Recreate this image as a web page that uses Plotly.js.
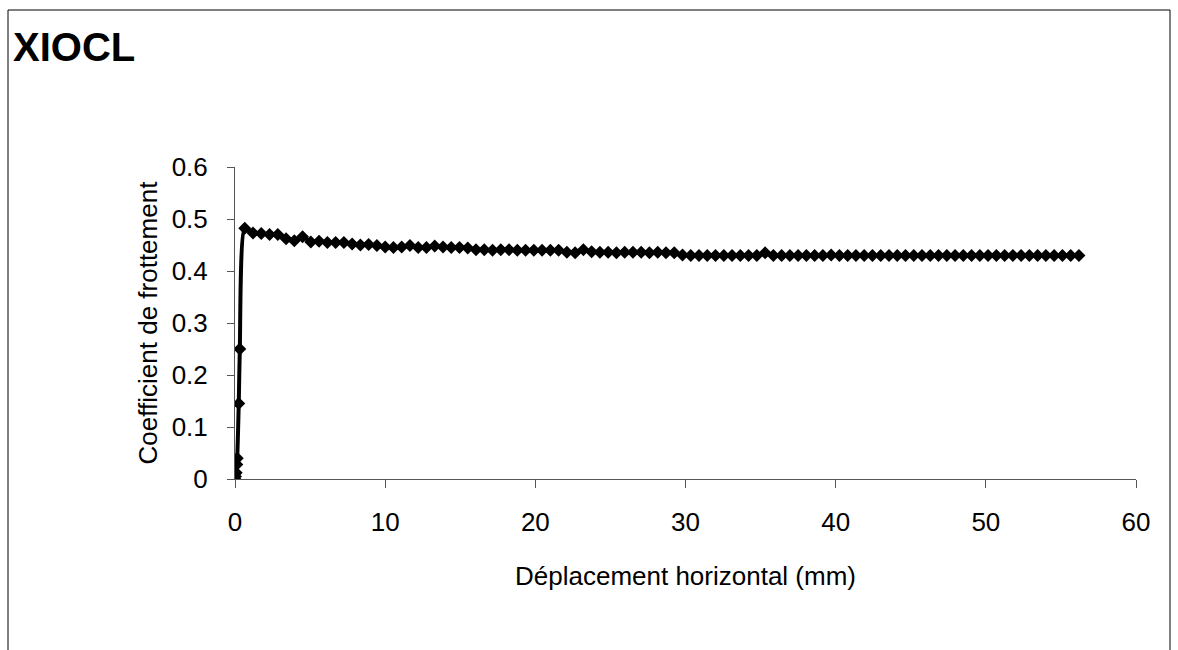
<!DOCTYPE html>
<html>
<head>
<meta charset="utf-8">
<script src="https://cdn.plot.ly/plotly-3.0.1.min.js"></script>
<style>
  html, body { margin: 0; padding: 0; background: #ffffff; }
  #chart { width: 1178px; height: 650px; }
</style>
</head>
<body>
<div id="chart"></div>
<script>
// Displacement (mm) and friction coefficient
var displacement = [
  0, 0.03, 0.08, 0.12, 0.15, 0.25, 0.32,
  0.65, 1.2, 1.75, 2.3, 2.85, 3.4, 3.95, 4.5, 5.05, 5.6,
  6.15, 6.7, 7.25, 7.8, 8.35, 8.9, 9.45, 10.0, 10.55, 11.1,
  11.65, 12.2, 12.75, 13.3, 13.85, 14.4, 14.95, 15.5, 16.05, 16.6,
  17.15, 17.7, 18.25, 18.8, 19.35, 19.9, 20.45, 21.0, 21.55, 22.1,
  22.65, 23.2, 23.75, 24.3, 24.85, 25.4, 25.95, 26.5, 27.05, 27.6,
  28.15, 28.7, 29.25, 29.8, 30.35, 30.9, 31.45, 32.0, 32.55, 33.1,
  33.65, 34.2, 34.75, 35.3, 35.85, 36.4, 36.95, 37.5, 38.05, 38.6,
  39.15, 39.7, 40.25, 40.8, 41.35, 41.9, 42.45, 43.0, 43.55, 44.1,
  44.65, 45.2, 45.75, 46.3, 46.85, 47.4, 47.95, 48.5, 49.05, 49.6,
  50.15, 50.7, 51.25, 51.8, 52.35, 52.9, 53.45, 54.0, 54.55, 55.1,
  55.65, 56.2
];
var frictionCoeff = [
  0, 0.005, 0.012, 0.028, 0.04, 0.145, 0.25,
  0.482, 0.473, 0.472, 0.470, 0.470, 0.462, 0.458, 0.466, 0.456, 0.457,
  0.455, 0.455, 0.455, 0.452, 0.450, 0.451, 0.449, 0.446, 0.445, 0.446,
  0.449, 0.445, 0.445, 0.448, 0.446, 0.445, 0.445, 0.444, 0.441, 0.441,
  0.440, 0.441, 0.441, 0.440, 0.440, 0.440, 0.440, 0.440, 0.440, 0.436,
  0.435, 0.441, 0.437, 0.436, 0.436, 0.435, 0.436, 0.436, 0.436, 0.435,
  0.436, 0.435, 0.435, 0.431, 0.430, 0.430, 0.430, 0.430, 0.430, 0.430,
  0.430, 0.430, 0.430, 0.435, 0.430, 0.430, 0.430, 0.430, 0.430, 0.430,
  0.430, 0.431, 0.430, 0.430, 0.430, 0.430, 0.430, 0.430, 0.430, 0.430,
  0.430, 0.430, 0.430, 0.430, 0.430, 0.430, 0.430, 0.430, 0.430, 0.430,
  0.430, 0.430, 0.430, 0.430, 0.430, 0.430, 0.430, 0.430, 0.430, 0.430,
  0.430, 0.430
];
var chartTitle = "XIOCL";
var xAxisTitle = "Déplacement horizontal (mm)";
var yAxisTitle = "Coefficient de frottement";

var FONT = "Liberation Sans, Arial, sans-serif";
var TXT = 26;

var trace = {
  x: displacement,
  y: frictionCoeff,
  type: "scatter",
  mode: "lines+markers",
  line: { color: "#000000", width: 4, shape: "spline", smoothing: 0.6 },
  marker: { symbol: "diamond", size: 10, color: "#000000" },
  hoverinfo: "x+y"
};

var L = 235, R = 42, T = 167, B = 171;
var PW = 1178 - L - R, PH = 650 - T - B;
function px2paperX(p) { return (p - L) / PW; }
function px2paperY(p) { return (650 - B - p) / PH; }

var layout = {
  width: 1178,
  height: 650,
  margin: { l: L, r: R, t: T, b: B, pad: 0 },
  paper_bgcolor: "#ffffff",
  plot_bgcolor: "#ffffff",
  showlegend: false,
  font: { family: FONT, size: TXT, color: "#000000" },
  title: {
    text: "<b>" + chartTitle + "</b>",
    font: { family: FONT, size: 40, color: "#000000" },
    xref: "container", yref: "container",
    x: 13 / 1178, xanchor: "left",
    y: 1 - 47 / 650, yanchor: "middle"
  },
  xaxis: {
    range: [0, 60],
    dtick: 10,
    tick0: 0,
    showgrid: false,
    zeroline: false,
    showline: true,
    linecolor: "#555555",
    linewidth: 1,
    ticks: "outside",
    ticklen: 8,
    tickcolor: "#555555",
    tickfont: { family: FONT, size: TXT, color: "#000000" },
    ticklabelstandoff: 12,
    title: { text: xAxisTitle, font: { family: FONT, size: TXT, color: "#000000" }, standoff: 30 },
    automargin: false
  },
  yaxis: {
    range: [0, 0.6],
    dtick: 0.1,
    tick0: 0,
    showgrid: false,
    zeroline: false,
    showline: true,
    linecolor: "#555555",
    linewidth: 1,
    ticks: "outside",
    ticklen: 7,
    tickcolor: "#555555",
    tickfont: { family: FONT, size: TXT, color: "#000000" },
    ticklabelstandoff: 14,
    title: { text: yAxisTitle, font: { family: FONT, size: TXT, color: "#000000" }, standoff: 6 },
    automargin: false
  },
  shapes: [{
    type: "rect",
    xref: "paper", yref: "paper",
    x0: px2paperX(8), x1: px2paperX(1170),
    y0: px2paperY(700), y1: px2paperY(10),
    line: { color: "#000000", width: 1 },
    fillcolor: "rgba(0,0,0,0)",
    layer: "below"
  }]
};

Plotly.newPlot("chart", [trace], layout, { displayModeBar: false, staticPlot: false });
</script>
</body>
</html>
